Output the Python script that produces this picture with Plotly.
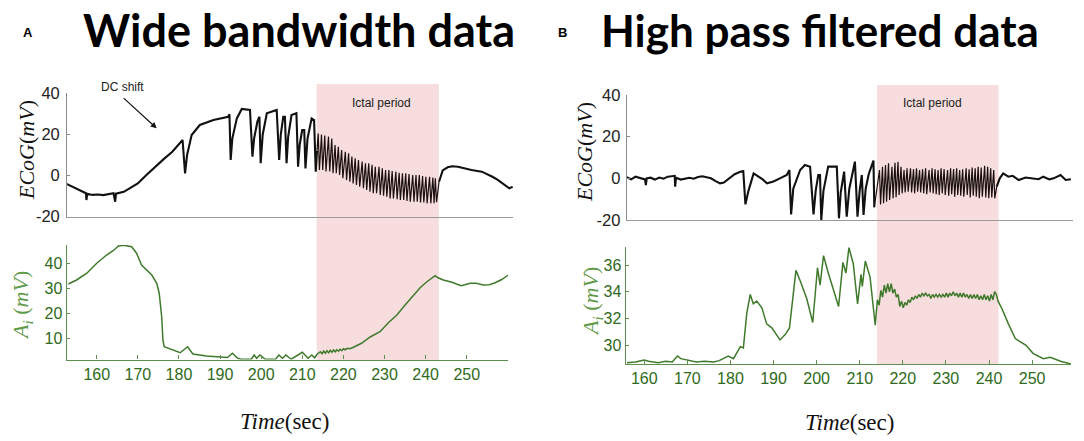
import plotly.graph_objects as go

# ---------------- data ----------------
# Panel A (wide bandwidth) ECoG, mV
wide_pre_t = [152.4, 153.6, 154.9, 156.2, 157.4, 157.5, 157.7, 159.0, 160.3, 161.6, 162.9, 164.1, 164.5, 164.7,
              166.6, 168.3, 170.0, 172.1, 174.2, 176.3, 178.4, 179.7, 180.9, 181.5, 182.0, 183.1, 185.1, 188.4,
              190.5, 192.0, 192.3, 192.6, 193.0, 194.1, 195.3, 197.3, 197.9, 198.3, 199.1, 199.6, 199.9, 200.4,
              201.4, 203.8, 204.4, 204.8, 205.4, 205.8, 206.2, 206.6, 207.4, 208.6, 209.0, 209.4, 210.0, 210.5,
              210.8, 211.3, 212.3, 212.9, 213.3, 213.6]
wide_pre_v = [-3.8, -5.0, -6.2, -7.8, -8.6, -11.9, -8.8, -9.4, -9.2, -9.5, -9.0, -8.6, -12.7, -8.8,
              -7.9, -6.0, -3.8, 0.3, 4.3, 8.0, 11.6, 14.5, 17.3, 1.1, 10.0, 19.7, 24.6, 27.0,
              28.0, 28.6, 29.8, 7.6, 18.0, 27.8, 32.4, 31.9, 9.2, 18.0, 26.2, 28.6, 6.0, 20.0,
              30.3, 31.9, 7.6, 20.0, 28.6, 28.6, 6.0, 19.0, 29.4, 30.3, 4.3, 15.0, 22.1, 22.1,
              3.5, 18.0, 27.8, 27.0, 1.9, 12.0]
wide_peak_t = [213.9, 214.7, 215.5, 216.4, 217.2, 218.0, 218.8, 219.6, 220.5, 221.3, 222.1, 222.9, 223.7, 224.6,
               225.4, 226.2, 227.0, 227.8, 228.7, 229.5, 230.3, 231.1, 231.9, 232.8, 233.6, 234.4, 235.2, 236.0,
               236.9, 237.7, 238.5, 239.3, 240.1, 241.0, 241.8, 242.4]
wide_peak_v = [20.5, 20.0, 19.5, 19.0, 18.0, 14.9, 14.0, 12.4, 11.6, 10.8, 9.2, 8.4, 7.6, 6.8,
               6.0, 6.0, 5.2, 4.3, 4.3, 3.5, 2.7, 2.7, 2.2, 1.9, 1.4, 1.1, 1.1, 0.7,
               0.3, 0.3, 0.3, -0.2, -0.6, -0.6, -1.0, -1.3]
wide_trough_t = [214.2, 215.0, 215.8, 216.7, 217.5, 218.3, 219.1, 219.9, 220.8, 221.6, 222.4, 223.2, 224.0, 224.9,
                 225.7, 226.5, 227.3, 228.1, 229.0, 229.8, 230.6, 231.4, 232.2, 233.1, 233.9, 234.7, 235.5, 236.3,
                 237.2, 238.0, 238.8, 239.6, 240.4, 241.3, 242.1, 242.7]
wide_trough_v = [2.7, 2.7, 2.0, 2.0, 1.1, 1.1, 0.3, -1.3, -2.2, -3.0, -3.8, -4.6, -5.4, -6.2,
                 -7.0, -7.8, -8.6, -8.6, -9.4, -9.8, -10.3, -11.1, -11.1, -11.5, -11.9, -11.9, -12.3, -12.7,
                 -12.7, -12.7, -13.1, -13.1, -13.5, -13.5, -13.5, -13.0]
wide_post_t = [243.3, 244.2, 245.4, 246.5, 247.9, 249.5, 251.2, 253.7, 255.0, 256.3, 257.5, 258.8, 260.4, 261.2]
wide_post_v = [-3.0, 2.5, 4.0, 4.5, 4.3, 3.5, 2.7, 1.9, 0.8, -0.6, -2.0, -3.8, -6.2, -5.4]

# Panel A amplitude A_i, mV
amp_wide_t = [153.1, 155.1, 157.6, 160.0, 162.4, 164.0, 165.3, 166.5, 168.5, 169.7, 170.9, 172.2, 173.4, 174.6,
              175.2, 175.8, 176.1, 176.4, 178.6, 180.3, 182.1, 183.4, 186.7, 191.8, 193.0, 194.3, 195.1, 197.6,
              198.3, 198.9, 199.7, 201.0, 203.5, 204.3, 205.2, 206.0, 207.3, 208.9, 210.0, 211.4, 212.3, 213.0,
              213.6, 214.4, 214.8, 215.2, 215.6, 216.0, 216.4, 216.8, 217.2, 217.6, 218.0, 218.4, 218.8, 219.2,
              219.6, 220.0, 220.4, 221.0, 221.6, 222.3, 223.0, 224.4, 226.5, 228.9, 231.0, 233.0, 235.0, 237.0,
              238.7, 240.3, 241.3, 242.3, 243.0, 244.3, 246.4, 248.6, 249.3, 250.8, 252.3, 254.0, 255.5, 256.9,
              258.5, 260.1]
amp_wide_v = [31.7, 33.3, 36.0, 40.0, 43.3, 45.0, 46.9, 47.2, 46.6, 44.0, 39.3, 37.3, 35.3, 32.0,
              28.0, 18.6, 9.3, 6.6, 5.3, 4.2, 6.6, 3.7, 2.9, 2.3, 4.0, 2.0, 1.6, 1.6,
              3.3, 2.0, 3.3, 1.6, 1.6, 3.3, 2.0, 3.3, 1.6, 3.3, 4.4, 2.0, 3.3, 2.2,
              3.6, 4.6, 3.8, 4.9, 4.0, 5.0, 4.2, 5.2, 4.4, 5.3, 4.6, 5.4, 4.8, 5.6,
              5.0, 5.8, 5.4, 6.0, 5.8, 6.3, 6.8, 8.0, 10.5, 12.6, 16.3, 19.3, 23.3, 27.3,
              30.3, 32.6, 33.8, 35.0, 34.2, 33.3, 32.4, 31.0, 31.3, 32.0, 32.0, 31.3, 31.4, 32.2,
              33.5, 35.3]

# Panel B (high pass filtered) ECoG, mV
hp_pre_t = [156.0, 157.0, 158.0, 159.0, 160.2, 160.4, 160.6, 161.5, 162.5, 163.5, 164.5, 165.5, 166.5, 167.1,
            167.2, 167.4, 168.5, 169.5, 170.5, 171.5, 172.5, 173.5, 174.5, 175.5, 176.5, 177.6, 178.5, 179.5,
            181.0, 182.3, 183.0, 183.5, 184.2, 185.4, 186.5, 187.5, 188.5, 190.0, 191.5, 193.1, 193.7, 194.1,
            194.6, 196.2, 197.3, 198.5, 199.3, 199.8, 200.4, 200.8, 201.1, 201.6, 202.7, 204.7, 205.2, 205.6,
            206.4, 207.0, 207.6, 208.9, 209.5, 210.0, 210.5, 210.9, 211.4, 212.1, 213.2, 213.4]
hp_pre_v = [0.5, -0.5, 0.8, 0.2, -0.5, -3.2, 0.0, 0.3, -0.6, 0.4, -0.2, 0.8, 1.0, 1.2,
            -4.0, 0.3, -0.6, 0.0, 0.3, -0.2, 0.6, 1.0, 0.4, 0.0, -1.2, -2.4, -2.0, -0.5,
            2.0, 3.2, 3.5, -12.5, -6.0, 2.4, 1.0, -0.5, -2.4, -1.5, 0.0, 1.6, 4.0, -17.3,
            -5.0, 4.0, 6.4, 5.6, -17.3, -6.0, 1.6, 1.6, -20.0, -6.0, 5.6, 5.6, -19.2, -7.0,
            3.2, -18.4, -5.0, 8.0, -18.4, -6.0, 1.6, -17.6, -5.0, 2.0, 8.5, -13.9]
hp_peak_t = [214.6, 215.3, 216.0, 216.7, 217.5, 218.2, 218.9, 219.6, 220.3, 221.0, 221.8, 222.5, 223.2, 223.9,
             224.6, 225.3, 226.1, 226.8, 227.5, 228.2, 228.9, 229.6, 230.4, 231.1, 231.8, 232.5, 233.2, 233.9,
             234.7, 235.4, 236.1, 236.8, 237.5, 238.2, 239.0, 239.7, 240.4, 241.1]
hp_peak_v = [4.0, 5.6, 6.4, 7.2, 5.6, 7.5, 8.0, 5.6, 4.0, 4.8, 4.8, 4.4, 4.8, 4.0,
             4.4, 4.8, 4.0, 4.8, 4.4, 4.0, 4.8, 4.4, 4.0, 4.8, 4.4, 4.8, 4.0, 4.4,
             4.8, 4.4, 5.2, 4.8, 5.6, 5.2, 6.0, 5.6, 4.8, 4.0]
hp_trough_t = [214.85, 215.55, 216.25, 216.95, 217.75, 218.45, 219.15, 219.85, 220.55, 221.25, 222.05, 222.75,
               223.45, 224.15, 224.85, 225.55, 226.35, 227.05, 227.75, 228.45, 229.15, 229.85, 230.65, 231.35,
               232.05, 232.75, 233.45, 234.15, 234.95, 235.65, 236.35, 237.05, 237.75, 238.45, 239.25, 239.95,
               240.65, 241.35]
hp_trough_v = [-12.5, -12.0, -11.2, -10.4, -9.6, -9.1, -8.0, -7.2, -6.8, -6.4, -6.8, -7.2, -6.4, -6.8,
               -7.2, -7.6, -6.8, -7.2, -7.6, -8.0, -7.2, -8.0, -8.4, -7.6, -8.8, -8.0, -8.4, -8.8,
               -8.0, -9.2, -8.4, -8.8, -9.6, -8.8, -9.2, -9.6, -9.2, -9.6]
hp_post_t = [241.8, 242.5, 243.3, 244.5, 245.5, 246.9, 248.5, 250.2, 251.5, 252.6, 254.0, 255.0, 256.6, 257.8, 259.0]
hp_post_v = [-4.0, 0.0, 2.4, 0.8, 1.2, -0.8, 0.4, 0.0, -0.4, 0.8, -0.5, 0.0, 1.6, -0.8, -0.4]

# Panel B amplitude A_i, mV
amp_hp_t = [156.0, 158.0, 160.0, 161.0, 163.2, 165.0, 166.5, 167.7, 168.5, 169.7, 172.1, 174.0, 176.1, 177.4,
            178.4, 179.5, 180.7, 182.3, 183.0, 183.8, 184.6, 185.3, 186.1, 187.3, 188.4, 189.6, 191.5, 192.7,
            193.7, 195.2, 196.2, 197.7, 199.1, 200.2, 200.8, 201.6, 202.7, 205.1, 206.1, 206.8, 207.5, 208.5,
            209.5, 210.3, 210.6, 211.3, 212.4, 213.6, 214.1, 214.5, 214.9, 215.3, 215.7, 216.1, 216.5, 216.9,
            217.3, 217.7, 218.1, 218.5, 218.9, 219.3, 219.7, 220.1, 220.5, 220.9, 221.3, 221.7, 222.1, 222.5,
            222.9, 223.3, 223.7, 224.1, 224.5, 224.9, 225.3, 225.7, 226.1, 226.5, 226.9, 227.3, 227.7, 228.1,
            228.5, 228.9, 229.3, 229.7, 230.1, 230.5, 230.9, 231.3, 231.7, 232.1, 232.5, 232.9, 233.3, 233.7,
            234.1, 234.5, 234.9, 235.3, 235.7, 236.1, 236.5, 236.9, 237.3, 237.7, 238.1, 238.5, 238.9, 239.3,
            239.7, 240.1, 240.5, 240.9, 241.3, 241.7, 242.1, 242.9, 244.5, 246.1, 248.6, 250.2, 252.6, 254.2,
            256.6, 259.0]
amp_hp_v = [28.7, 28.75, 28.9, 28.8, 28.7, 28.8, 28.75, 29.2, 29.0, 28.9, 28.75, 28.8, 28.75, 28.85,
            29.0, 29.2, 29.0, 29.9, 29.8, 32.4, 33.8, 33.1, 33.3, 32.8, 31.6, 31.3, 30.4, 30.8,
            31.3, 35.6, 34.8, 33.5, 31.7, 35.8, 34.5, 36.7, 35.4, 32.9, 36.2, 35.4, 37.3, 36.1,
            33.1, 35.3, 34.4, 36.3, 35.1, 31.5, 33.4, 33.0, 34.1, 33.6, 34.5, 33.9, 34.6, 34.0,
            34.6, 33.9, 34.2, 33.6, 33.8, 32.9, 33.3, 32.8, 33.2, 33.0, 33.4, 33.2, 33.6, 33.4,
            33.7, 33.5, 33.8, 33.6, 33.9, 33.7, 33.9, 33.7, 33.8, 33.5, 33.8, 33.6, 33.8, 33.6,
            33.8, 33.6, 33.8, 33.6, 33.9, 33.6, 33.9, 33.7, 34.0, 33.7, 33.9, 33.6, 33.9, 33.6,
            33.9, 33.6, 33.8, 33.5, 33.8, 33.5, 33.8, 33.5, 33.8, 33.4, 33.7, 33.4, 33.8, 33.4,
            33.7, 33.3, 33.8, 33.4, 34.0, 33.8, 33.3, 32.8, 31.6, 30.5, 30.0, 29.4, 29.0, 29.1,
            28.8, 28.6]

# ictal period (s) and tick labels
ictal_a = [213.5, 243.2]
ictal_b = [214.0, 242.2]
ecog_ticks = [-20, 0, 20, 40]
ecog_ticktext = ["-20", "0", "20", "40"]
time_ticks = [160, 170, 180, 190, 200, 210, 220, 230, 240, 250]
amp_a_ticks = [10, 20, 30, 40]
amp_b_ticks = [30, 32, 34, 36]


def ictal_zigzag(pre_t, pre_v, pk_t, pk_v, tr_t, tr_v, post_t, post_v):
    """Join the listed peaks and troughs, bridged to the neighbouring samples."""
    xs, ys = [pre_t[-1]], [pre_v[-1]]
    for a, b, c, d in zip(pk_t, pk_v, tr_t, tr_v):
        xs += [a, c]
        ys += [b, d]
    xs.append(post_t[0])
    ys.append(post_v[0])
    return xs, ys


wide_ix, wide_iv = ictal_zigzag(wide_pre_t, wide_pre_v, wide_peak_t, wide_peak_v,
                                wide_trough_t, wide_trough_v, wide_post_t, wide_post_v)
hp_ix, hp_iv = ictal_zigzag(hp_pre_t, hp_pre_v, hp_peak_t, hp_peak_v,
                            hp_trough_t, hp_trough_v, hp_post_t, hp_post_v)

# ---------------- figure ----------------
W, H = 1084, 441
OFF = 8  # page body margin in the browser
GREEN_TXT = "#2f6a20"
GREEN_LINE = "#3f7a2c"
GREEN_AXIS = "#5f8f4f"
PINK = "#f7dddd"
INK = "#111111"

fig = go.Figure()
for xa, ya, pre_t, pre_v, ix, iv, post_t, post_v in [
        ("x", "y", wide_pre_t, wide_pre_v, wide_ix, wide_iv, wide_post_t, wide_post_v),
        ("x3", "y3", hp_pre_t, hp_pre_v, hp_ix, hp_iv, hp_post_t, hp_post_v)]:
    fig.add_trace(go.Scatter(x=pre_t + [None] + post_t, y=pre_v + [None] + post_v, xaxis=xa, yaxis=ya,
                             mode="lines", line=dict(color=INK, width=2.1), connectgaps=False))
    fig.add_trace(go.Scatter(x=ix, y=iv, xaxis=xa, yaxis=ya, mode="lines",
                             line=dict(color="#1a1010", width=1.2)))
fig.add_trace(go.Scatter(x=amp_wide_t, y=amp_wide_v, xaxis="x2", yaxis="y2", mode="lines",
                         line=dict(color=GREEN_LINE, width=1.5)))
fig.add_trace(go.Scatter(x=amp_hp_t, y=amp_hp_v, xaxis="x4", yaxis="y4", mode="lines",
                         line=dict(color=GREEN_LINE, width=1.5)))


def px(x):
    return (x - OFF) / W


def py(y):
    return 1 - (y - OFF) / H


top_x = dict(showline=True, linecolor="#9a9a9a", linewidth=1, showticklabels=False, ticks="",
             showgrid=False, zeroline=False, automargin=False)
top_y = dict(showline=True, linecolor="#8a8a8a", linewidth=1, tickvals=ecog_ticks, ticktext=ecog_ticktext,
             ticks="inside", ticklen=3, tickcolor="#8a8a8a", showgrid=False, zeroline=False,
             tickfont=dict(family="Liberation Sans, Arial", size=16.5, color="#222222"),
             ticklabelstandoff=3, automargin=False)
bot_x = dict(showline=True, linecolor=GREEN_AXIS, linewidth=1.2, tickvals=time_ticks, ticks="inside",
             ticklen=4, tickcolor=GREEN_AXIS, showgrid=False, zeroline=False,
             tickfont=dict(family="Liberation Sans, Arial", size=16, color=GREEN_TXT),
             ticklabelstandoff=0, automargin=False)
bot_y = dict(showline=True, linecolor=GREEN_AXIS, linewidth=1.2, ticks="inside", ticklen=3,
             tickcolor=GREEN_AXIS, showgrid=False, zeroline=False,
             tickfont=dict(family="Liberation Sans, Arial", size=16, color=GREEN_TXT),
             ticklabelstandoff=0, automargin=False)

fig.update_layout(
    template="none",
    width=W, height=H, margin=dict(l=0, r=0, t=0, b=0, pad=0), autosize=False,
    paper_bgcolor="white", plot_bgcolor="rgba(0,0,0,0)", showlegend=False,
    xaxis=dict(top_x, domain=[px(67.1), px(513)], range=[152.8, 261.3], anchor="y"),
    yaxis=dict(top_y, domain=[py(216.7), py(93.3)], range=[-20, 40], anchor="x"),
    xaxis2=dict(bot_x, domain=[px(66.7), px(508.3)], range=[152.7, 260.1], anchor="y2"),
    yaxis2=dict(bot_y, domain=[py(359.5), py(245)], range=[1.5, 47.3], tickvals=amp_a_ticks, anchor="x2"),
    xaxis3=dict(top_x, domain=[px(626.7), px(1072.6)], range=[155.96, 259.4], anchor="y3"),
    yaxis3=dict(top_y, domain=[py(220), py(95)], range=[-20, 40], anchor="x3", ticklabelstandoff=2),
    xaxis4=dict(bot_x, domain=[px(625.7), px(1070.9)], range=[155.7, 259.0], anchor="y4"),
    yaxis4=dict(bot_y, domain=[py(364), py(246.7)], range=[28.6, 37.37], tickvals=amp_b_ticks, anchor="x4"),
)

fig.add_shape(type="rect", xref="x2", yref="paper", x0=ictal_a[0], x1=ictal_a[1],
              y0=py(360), y1=py(84), fillcolor=PINK, line=dict(width=0), layer="below")
fig.add_shape(type="rect", xref="x4", yref="paper", x0=ictal_b[0], x1=ictal_b[1],
              y0=py(364), y1=py(85), fillcolor=PINK, line=dict(width=0), layer="below")

serif = "Liberation Serif, Times New Roman, serif"
C = dict(xanchor="center", yanchor="middle", showarrow=False)
ann = []
# panel titles and letters
ann.append(dict(C, text="Wide bandwidth data", x=px(299), y=py(30), xref="paper", yref="paper",
                font=dict(family="Lato", size=45, color="black", weight="bold")))
ann.append(dict(C, text="High pass filtered data", x=px(820), y=py(30), xref="paper", yref="paper",
                font=dict(family="Lato", size=44, color="black", weight="bold")))
ann.append(dict(C, text="<b>A</b>", x=px(28), y=py(33), xref="paper", yref="paper",
                font=dict(family="Liberation Sans, Arial", size=13, color="black")))
ann.append(dict(C, text="<b>B</b>", x=px(562), y=py(33), xref="paper", yref="paper",
                font=dict(family="Liberation Sans, Arial", size=13, color="black")))
# axis titles
for xc, yc in [(26, 150), (585, 152)]:
    ann.append(dict(C, text="<i>ECoG</i>(<i>mV</i>)", x=px(xc), y=py(yc), xref="paper", yref="paper",
                    textangle=-90, font=dict(family=serif, size=22, color="#111111")))
for xc, yc in [(22, 306), (592, 302)]:
    ann.append(dict(C, text="<i>A<sub>i</sub></i> (<i>mV</i>)", x=px(xc), y=py(yc), xref="paper",
                    yref="paper", textangle=-90, font=dict(family=serif, size=22, color="#5f9a48")))
for xc, yc in [(284, 421), (849, 422)]:
    ann.append(dict(C, text="<i>Time</i>(sec)", x=px(xc), y=py(yc), xref="paper", yref="paper",
                    font=dict(family=serif, size=23, color="#111111")))
# ictal labels
ann.append(dict(C, text="Ictal period", x=229.2, y=35.1, xref="x", yref="y",
                font=dict(family="Liberation Sans, Arial", size=12, color="#222222")))
ann.append(dict(C, text="Ictal period", x=226.8, y=36.0, xref="x3", yref="y3",
                font=dict(family="Liberation Sans, Arial", size=12, color="#222222")))
# DC shift arrow
ann.append(dict(C, text="DC shift", x=px(122), y=py(86.7), xref="paper", yref="paper",
                font=dict(family="Liberation Sans, Arial", size=12, color="#222222")))
ann.append(dict(text="", x=174.6, y=23.0, ax=166.2, ay=38.3, xref="x", yref="y", axref="x", ayref="y",
                showarrow=True, arrowhead=2, arrowsize=1, arrowwidth=1.2, arrowcolor="#111111",
                standoff=0, startstandoff=0))
fig.update_layout(annotations=ann)

fig.write_html("out.html")
